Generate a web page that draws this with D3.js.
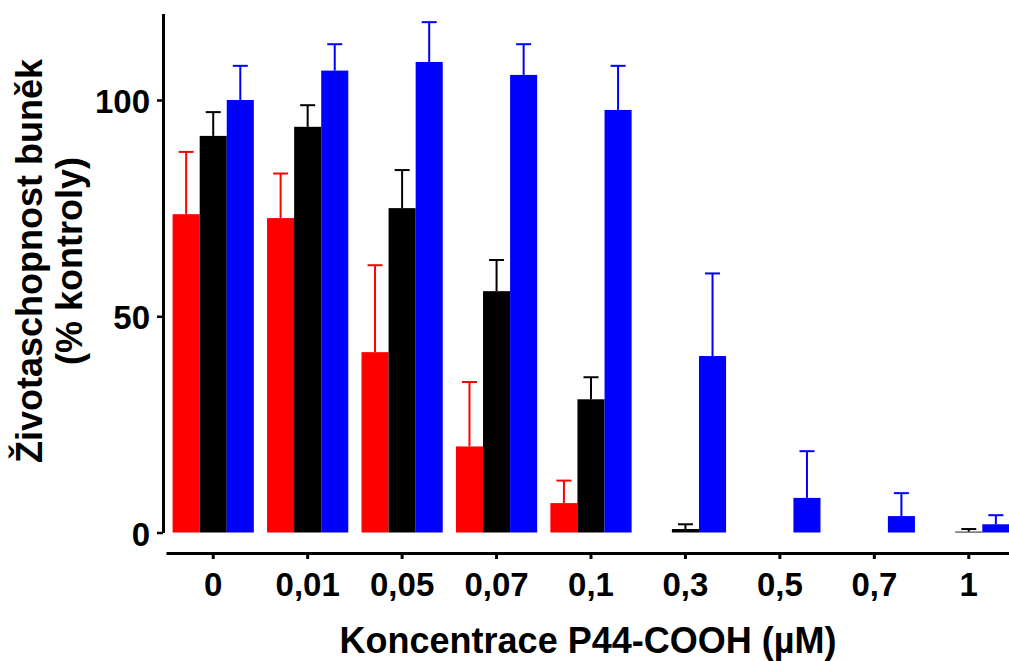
<!DOCTYPE html>
<html>
<head>
<meta charset="utf-8">
<script src="https://cdn.jsdelivr.net/npm/d3@7/dist/d3.min.js"></script>
<style>
  html, body { margin: 0; padding: 0; background: #fff; }
  svg { display: block; font-family: "Liberation Sans", Arial, sans-serif; }
</style>
</head>
<body>
<div id="chart"></div>
<script>
// Concentrations (x categories)
const categories = ['0', '0,01', '0,05', '0,07', '0,1', '0,3', '0,5', '0,7', '1'];

// Series values (mean, upper error); null = no bar
const redMean   = [73.6, 72.7, 41.7, 19.9, 6.8, null, null, null, null];
const redErr    = [14.4, 10.3, 20.1, 14.9, 5.2, null, null, null, null];
const blackMean = [91.7, 93.8, 75.0, 55.8, 30.8, 0.8, null, null, 0.2];
const blackErr  = [5.5, 5.0, 8.8, 7.2, 5.1, 1.1, null, null, 0.6];
const blueMean  = [100.0, 106.8, 108.8, 105.8, 97.7, 40.8, 8.0, 3.8, 1.9];
const blueErr   = [7.9, 6.1, 9.2, 7.1, 10.2, 19.1, 10.8, 5.3, 2.1];

const yTicks = [0, 50, 100];

const series = [
  { key: 'red', color: '#ff0000', mean: redMean, err: redErr },
  { key: 'black', color: '#000000', mean: blackMean, err: blackErr },
  { key: 'blue', color: '#0000ff', mean: blueMean, err: blueErr }
];

const width = 1009, height = 661;
const font = '"Liberation Sans", Arial, sans-serif';

const svg = d3.select('#chart')
  .append('svg')
  .attr('width', width)
  .attr('height', height);

// Scales
const x = d3.scaleBand()
  .domain(categories)
  .range([166, 1016])
  .paddingInner(0.14)
  .paddingOuter(0.07);

const xSub = d3.scaleBand()
  .domain(series.map(s => s.key))
  .range([0, x.bandwidth()]);

const y = d3.scaleLinear()
  .domain([0, 120])
  .range([532.5, 13.5]);

// Bars
const groups = svg.append('g')
  .selectAll('g.group')
  .data(categories)
  .join('g')
  .attr('class', 'group')
  .attr('transform', d => `translate(${x(d)},0)`);

const cells = groups.selectAll('g.cell')
  .data((d, i) => series
    .filter(s => s.mean[i] != null)
    .map(s => ({ key: s.key, color: s.color, value: s.mean[i], err: s.err[i] })))
  .join('g')
  .attr('class', 'cell');

// Error bars (upper only)
cells.append('line')
  .attr('x1', d => xSub(d.key) + xSub.bandwidth() / 2)
  .attr('x2', d => xSub(d.key) + xSub.bandwidth() / 2)
  .attr('y1', d => y(d.value))
  .attr('y2', d => y(d.value + d.err))
  .attr('stroke', d => d.color)
  .attr('stroke-width', 2);

cells.append('line')
  .attr('x1', d => xSub(d.key) + xSub.bandwidth() / 2 - 7.5)
  .attr('x2', d => xSub(d.key) + xSub.bandwidth() / 2 + 7.5)
  .attr('y1', d => y(d.value + d.err))
  .attr('y2', d => y(d.value + d.err))
  .attr('stroke', d => d.color)
  .attr('stroke-width', 2);

cells.append('rect')
  .attr('x', d => xSub(d.key))
  .attr('y', d => y(d.value))
  .attr('width', xSub.bandwidth())
  .attr('height', d => y(0) - y(d.value))
  .attr('fill', d => d.color);

// Y axis
const yAxis = svg.append('g')
  .attr('transform', 'translate(163,0)')
  .call(d3.axisLeft(y).tickValues(yTicks).tickSize(6).tickSizeOuter(0).tickPadding(7));

yAxis.select('.domain').attr('stroke-width', 3);
yAxis.selectAll('.tick line').attr('stroke-width', 2.5);
yAxis.selectAll('.tick text')
  .attr('font-family', font)
  .attr('font-size', '33px')
  .attr('font-weight', 'bold')
  .attr('dy', '0.38em');

// X axis
const xAxis = svg.append('g')
  .attr('transform', 'translate(0,553)')
  .call(d3.axisBottom(x).tickSize(6).tickSizeOuter(0).tickPadding(14));

xAxis.select('.domain').attr('stroke-width', 3);
xAxis.selectAll('.tick line').attr('stroke-width', 3);
xAxis.selectAll('.tick text')
  .attr('font-family', font)
  .attr('font-size', '33px')
  .attr('font-weight', 'bold');

// Axis titles
svg.append('text')
  .attr('x', 588)
  .attr('y', 653)
  .attr('text-anchor', 'middle')
  .attr('font-family', font)
  .attr('font-size', '36px')
  .attr('font-weight', 'bold')
  .text('Koncentrace P44-COOH (µM)');

const yTitle = svg.append('text')
  .attr('transform', 'translate(0,261) rotate(-90)')
  .attr('text-anchor', 'middle')
  .attr('font-family', font)
  .attr('font-size', '36px')
  .attr('font-weight', 'bold');

yTitle.append('tspan').attr('x', 0).attr('y', 42).text('Životaschopnost buněk');
yTitle.append('tspan').attr('x', 0).attr('y', 82).text('(% kontroly)');
</script>
</body>
</html>
